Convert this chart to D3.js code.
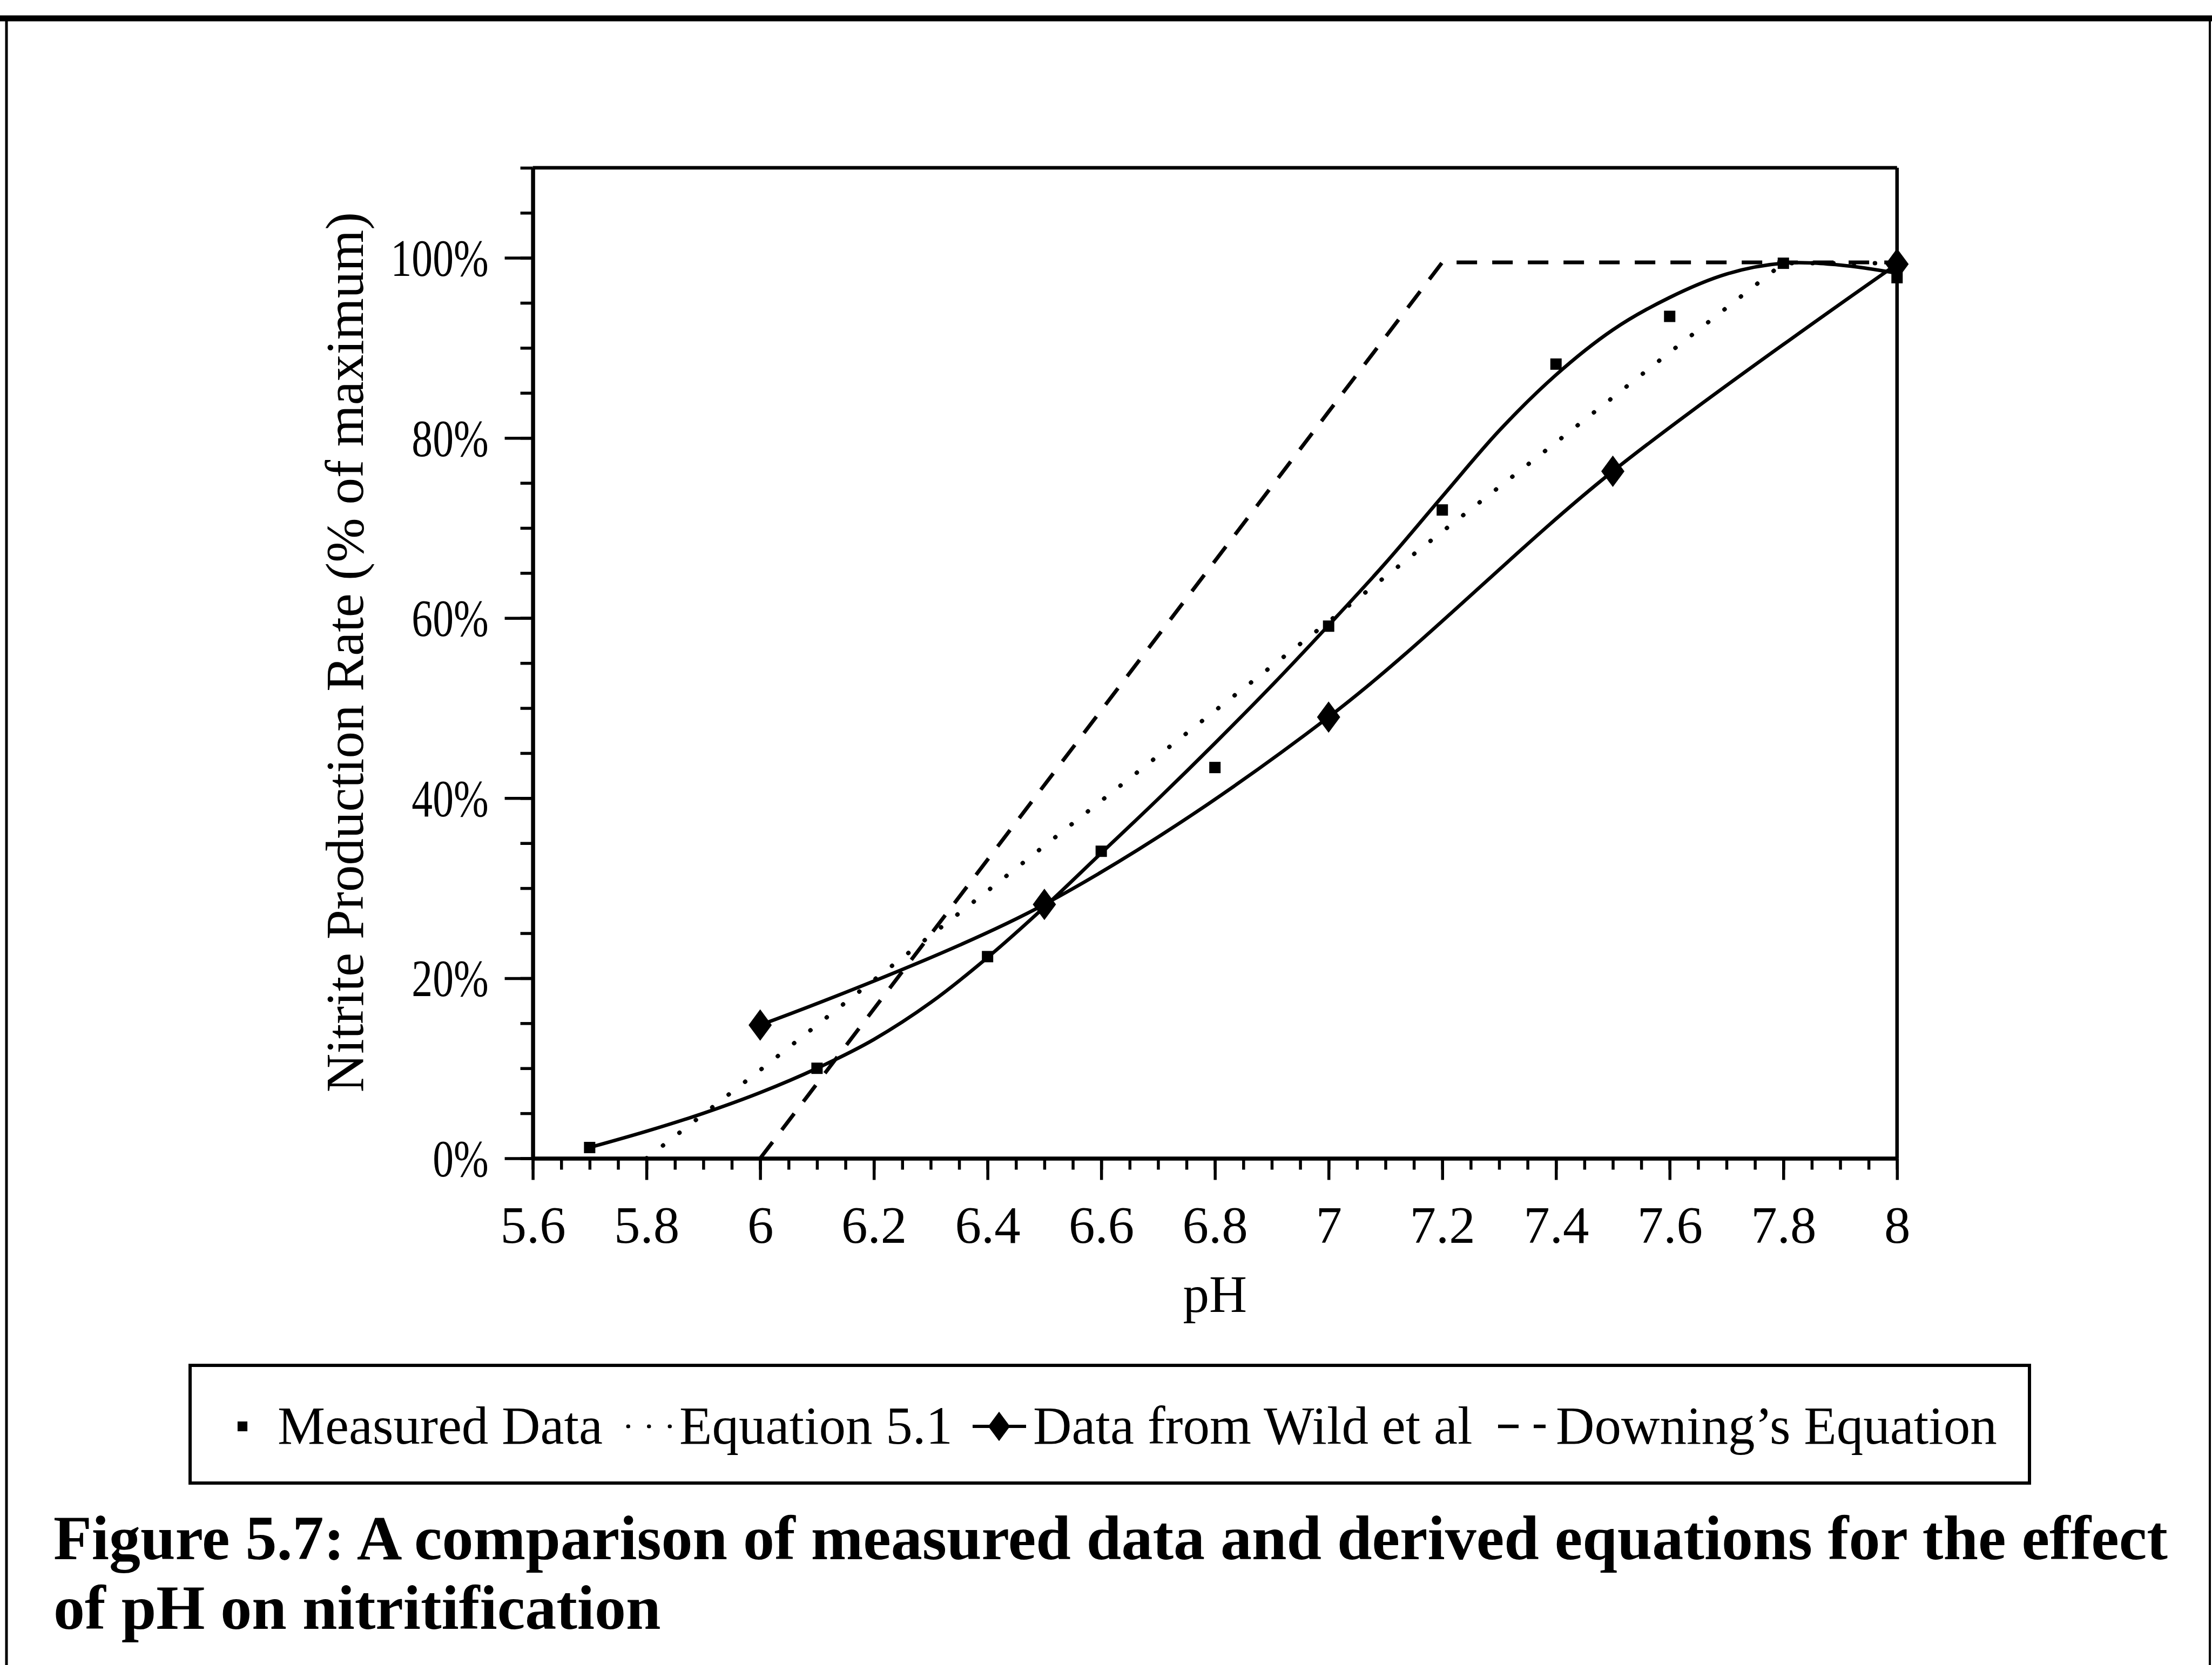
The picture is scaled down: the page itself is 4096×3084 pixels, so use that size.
<!DOCTYPE html>
<html>
<head>
<meta charset="utf-8">
<script src="https://cdn.jsdelivr.net/npm/d3@7"></script>
<style>
  html, body { margin: 0; padding: 0; background: #fff; }
  svg { display: block; }
  text { font-family: "Liberation Serif", "Times New Roman", serif; fill: #000; }
</style>
</head>
<body>
<svg id="chart" width="4096" height="3084"></svg>
<script>
// Measured nitrite production (% of maximum) against pH
const measuredPH = [5.7, 6.1, 6.4, 6.6, 6.8, 7.0, 7.2, 7.4, 7.6, 7.8, 8.0];
const measuredRate = [1.2, 10.0, 22.4, 34.1, 43.4, 59.1, 72.0, 88.2, 93.5, 99.4, 97.8];

// fitted solid curve through the measured data
const trendPH = [5.7, 5.8, 5.9, 6.0, 6.1, 6.2, 6.3, 6.4, 6.5, 6.6, 6.7, 6.8, 6.9, 7.0, 7.1, 7.2, 7.3, 7.4, 7.5, 7.6, 7.7, 7.8, 7.9, 8.0];
const trendRate = [1.2, 3.0, 5.0, 7.3, 10.0, 13.2, 17.3, 22.3, 27.9, 33.9, 39.9, 46.1, 52.5, 59.2, 66.1, 73.5, 80.8, 87.0, 92.0, 95.6, 98.2, 99.4, 99.2, 98.3];

// Equation 5.1
const eq51PH = [5.8, 6.0, 6.2, 6.4, 6.6, 6.8, 7.0, 7.2, 7.4, 7.6, 7.8, 8.0];
const eq51Rate = [0, 9.8, 19.8, 29.7, 39.7, 49.7, 59.6, 69.6, 79.5, 89.5, 99.4, 99.4];

// Data from Wild et al
const wildPH = [6.0, 6.5, 7.0, 7.5, 8.0];
const wildRate = [14.8, 28.2, 49.0, 76.3, 99.3];

// Downing's Equation
const downingPH = [6.0, 7.2, 8.0];
const downingRate = [0, 99.5, 99.5];

const xMajor = [5.6, 5.8, 6.0, 6.2, 6.4, 6.6, 6.8, 7.0, 7.2, 7.4, 7.6, 7.8, 8.0];
const xLabels = ["5.6", "5.8", "6", "6.2", "6.4", "6.6", "6.8", "7", "7.2", "7.4", "7.6", "7.8", "8"];
const yMajor = [0, 20, 40, 60, 80, 100];
const yLabels = ["0%", "20%", "40%", "60%", "80%", "100%"];

const legendNames = ["Measured Data", "Equation 5.1", "Data from Wild et al", "Downing\u2019s Equation"];
const captionLines = [
  "Figure 5.7: A comparison of measured data and derived equations for the effect",
  "of pH on nitritification"
];

const svg = d3.select("#chart");
const fontSize = 97;

const x = d3.scaleLinear().domain([5.6, 8.0]).range([986.6, 3512.8]);
const y = d3.scaleLinear().domain([0, 110]).range([2145.5, 310.8]);

const zip = (a, b) => a.map((v, i) => [v, b[i]]);

// outer page frame (scanned figure border)
svg.append("line").attr("x1", 0).attr("x2", 4096).attr("y1", 34).attr("y2", 34)
  .attr("stroke", "#000").attr("stroke-width", 11);
svg.append("line").attr("x1", 12).attr("x2", 12).attr("y1", 29).attr("y2", 3084)
  .attr("stroke", "#000").attr("stroke-width", 5);
svg.append("line").attr("x1", 4092).attr("x2", 4092).attr("y1", 29).attr("y2", 3084)
  .attr("stroke", "#000").attr("stroke-width", 4);

// plot box top + right
const box = svg.append("g");
box.append("line").attr("x1", x(5.6)).attr("x2", x(8.0)).attr("y1", y(110)).attr("y2", y(110))
  .attr("stroke", "#000").attr("stroke-width", 6.5);
box.append("line").attr("x1", x(8.0)).attr("x2", x(8.0)).attr("y1", y(110)).attr("y2", y(0))
  .attr("stroke", "#000").attr("stroke-width", 6.5);

// minor ticks
const xMinor = d3.range(0, 49).map(i => 5.6 + i * 0.05);
const yMinor = d3.range(0, 23).map(i => i * 5);

const xAxisMinor = svg.append("g").attr("transform", `translate(0,${y(0)})`)
  .call(d3.axisBottom(x).tickValues(xMinor).tickSize(21).tickSizeOuter(0).tickFormat(""));
const yAxisMinor = svg.append("g").attr("transform", `translate(${x(5.6)},0)`)
  .call(d3.axisLeft(y).tickValues(yMinor).tickSize(23).tickSizeOuter(0).tickFormat(""));

const xAxis = svg.append("g").attr("transform", `translate(0,${y(0)})`)
  .call(d3.axisBottom(x).tickValues(xMajor).tickSize(40).tickSizeOuter(0).tickPadding(48)
    .tickFormat((d, i) => xLabels[i]));
const yAxis = svg.append("g").attr("transform", `translate(${x(5.6)},0)`)
  .call(d3.axisLeft(y).tickValues(yMajor).tickSize(52).tickSizeOuter(0).tickPadding(30)
    .tickFormat((d, i) => yLabels[i]));

[xAxisMinor, yAxisMinor, xAxis, yAxis].forEach(g => {
  g.select(".domain").attr("stroke", "#000").attr("stroke-width", 7);
  g.selectAll(".tick line").attr("stroke", "#000").attr("stroke-width", 5.5);
  g.selectAll(".tick text")
    .attr("font-family", "Liberation Serif, Times New Roman, serif")
    .attr("font-size", fontSize).attr("fill", "#000");
});
// y labels are set a little narrower in the original
yAxis.selectAll(".tick text")
  .attr("x", 0).attr("dy", "0.34em")
  .attr("transform", "translate(-82,0) scale(0.8,1)");

// axis titles
svg.append("text").attr("x", (x(5.6) + x(8.0)) / 2).attr("y", 2430)
  .attr("text-anchor", "middle").attr("font-size", fontSize).text("pH");
svg.append("text").attr("transform", "translate(672,1208) rotate(-90)")
  .attr("text-anchor", "middle").attr("font-size", 99)
  .text("Nitrite Production Rate (% of maximum)");

// lines
const smooth = d3.line().x(d => x(d[0])).y(d => y(d[1])).curve(d3.curveCatmullRom.alpha(0));
const straight = d3.line().x(d => x(d[0])).y(d => y(d[1]));

const plot = svg.append("g");

plot.append("path").attr("d", straight(zip(eq51PH, eq51Rate)))
  .attr("fill", "none").attr("stroke", "#000").attr("stroke-width", 8)
  .attr("stroke-linecap", "round").attr("stroke-dasharray", "0.5 38");

plot.append("path").attr("d", straight(zip(downingPH, downingRate)))
  .attr("fill", "none").attr("stroke", "#000").attr("stroke-width", 7)
  .attr("stroke-dasharray", "38 28");

plot.append("path").attr("d", smooth(zip(trendPH, trendRate)))
  .attr("fill", "none").attr("stroke", "#000").attr("stroke-width", 6.5);

plot.append("path").attr("d", smooth(zip(wildPH, wildRate)))
  .attr("fill", "none").attr("stroke", "#000").attr("stroke-width", 6.5);

// markers
const diamond = {
  draw(ctx, size) {
    const a = Math.sqrt(size / 2.7);
    const b = a * 1.35;
    ctx.moveTo(0, -b);
    ctx.lineTo(a, 0);
    ctx.lineTo(0, b);
    ctx.lineTo(-a, 0);
    ctx.closePath();
  }
};

plot.selectAll(".measured").data(zip(measuredPH, measuredRate)).enter()
  .append("path").attr("class", "measured")
  .attr("d", d3.symbol(d3.symbolSquare, 441))
  .attr("transform", d => `translate(${x(d[0])},${y(d[1])})`)
  .attr("fill", "#000");

plot.selectAll(".wild").data(zip(wildPH, wildRate)).enter()
  .append("path").attr("class", "wild")
  .attr("d", d3.symbol(diamond, 1250))
  .attr("transform", d => `translate(${x(d[0])},${y(d[1])})`)
  .attr("fill", "#000");

// legend
const legend = svg.append("g");
legend.append("rect").attr("x", 352).attr("y", 2529).attr("width", 3406).attr("height", 218)
  .attr("fill", "none").attr("stroke", "#000").attr("stroke-width", 6);

const ly = 2674;
const lmid = ly - 32;
legend.append("path").attr("d", d3.symbol(d3.symbolSquare, 330))
  .attr("transform", `translate(449,${lmid})`).attr("fill", "#000");
legend.append("line").attr("x1", 1163).attr("x2", 1248).attr("y1", lmid).attr("y2", lmid)
  .attr("stroke", "#000").attr("stroke-width", 7).attr("stroke-linecap", "round")
  .attr("stroke-dasharray", "0.5 38");
legend.append("line").attr("x1", 1801).attr("x2", 1900).attr("y1", lmid).attr("y2", lmid)
  .attr("stroke", "#000").attr("stroke-width", 6);
legend.append("path").attr("d", d3.symbol(diamond, 1100))
  .attr("transform", `translate(1850,${lmid})`).attr("fill", "#000");
legend.append("line").attr("x1", 2774).attr("x2", 2862).attr("y1", lmid).attr("y2", lmid)
  .attr("stroke", "#000").attr("stroke-width", 6.5).attr("stroke-dasharray", "38 28");

const legendX = [514, 1258, 1913, 2881];
legend.selectAll(".ltext").data(legendNames).enter()
  .append("text").attr("class", "ltext")
  .attr("x", (d, i) => legendX[i]).attr("y", ly)
  .attr("font-size", 99).text(d => d);

// caption
svg.selectAll(".caption").data(captionLines).enter()
  .append("text").attr("class", "caption")
  .attr("x", 99).attr("y", (d, i) => 2888 + i * 129)
  .attr("font-size", 116).attr("font-weight", "bold").text(d => d);
</script>
</body>
</html>
